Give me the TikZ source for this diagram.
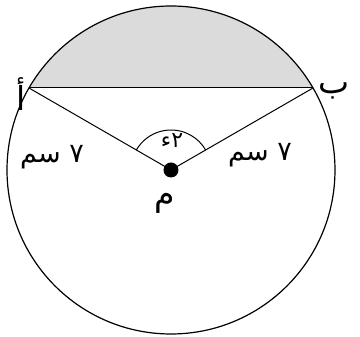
\documentclass[tikz,border=0pt]{standalone}
\usepackage{fontspec}
\newfontfamily\arabicfont[Script=Arabic]{DejaVu Sans}
\TeXXeTstate=1
\usetikzlibrary{positioning}

\begin{document}
\begin{tikzpicture}[x=1pt, y=1pt,
  rim/.style={draw, line width=1.2pt},
  side/.style={draw, line width=1pt},
  lbl/.style={font=\arabicfont\fontsize{27}{30}\selectfont, inner sep=1pt},
  pt/.style={lbl, font=\arabicfont\fontsize{33}{36}\selectfont}]
  \useasboundingbox (0,0) rectangle (360,337);
  \coordinate (M) at (171,167);
  \path (M) ++(150:164) coordinate (A);
  \path (M) ++(30:164) coordinate (B);
  % shaded segment over the chord
  \fill[gray!28] (A) arc[start angle=150, end angle=30, radius=164] -- cycle;
  \draw[rim] (M) circle[radius=164];
  \draw[side] (A) -- (B);
  \draw[side] (A) -- (M) -- (B);
  \draw[side] (M) ++(150:40) arc[start angle=150, end angle=30, radius=40];
  \fill (M) circle[radius=7.5];
  \node[pt, left=2pt of A, yshift=-6pt] (la) {\beginR أ\endR};
  \node[pt, right=4pt of B, yshift=-3pt] (lb) {\beginR ب\endR};
  \node[pt] (lm) at (165,134) {\beginR م\endR};
  \node[lbl, font=\arabicfont\fontsize{22}{26}\selectfont] (ang) at (172,196) {\beginR ٢ء\endR};
  \node[lbl] (ra) at (52,180) {\beginR ٧ سم\endR};
  \node[lbl] (rb) at (260,182) {\beginR ٧ سم\endR};
\end{tikzpicture}
\end{document}
